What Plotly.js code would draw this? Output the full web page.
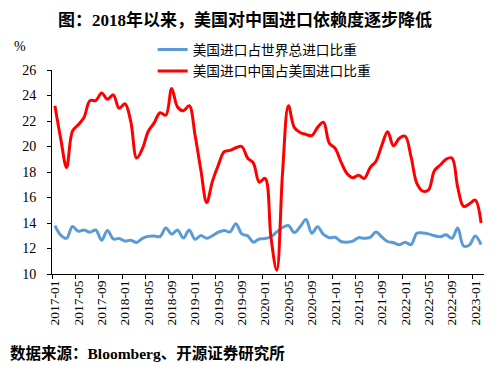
<!DOCTYPE html>
<html><head><meta charset="utf-8">
<script src="https://cdn.plot.ly/plotly-3.0.1.min.js"></script>
<style>html,body{margin:0;padding:0;background:#fff}#chart{width:500px;height:366px}</style>
</head><body><div id="chart"></div>
<script>
const months = [
 "2017-01","2017-02","2017-03","2017-04","2017-05","2017-06","2017-07","2017-08","2017-09","2017-10","2017-11","2017-12",
 "2018-01","2018-02","2018-03","2018-04","2018-05","2018-06","2018-07","2018-08","2018-09","2018-10","2018-11","2018-12",
 "2019-01","2019-02","2019-03","2019-04","2019-05","2019-06","2019-07","2019-08","2019-09","2019-10","2019-11","2019-12",
 "2020-01","2020-02","2020-03","2020-04","2020-05","2020-06","2020-07","2020-08","2020-09","2020-10","2020-11","2020-12",
 "2021-01","2021-02","2021-03","2021-04","2021-05","2021-06","2021-07","2021-08","2021-09","2021-10","2021-11","2021-12",
 "2022-01","2022-02","2022-03","2022-04","2022-05","2022-06","2022-07","2022-08","2022-09","2022-10","2022-11","2022-12",
 "2023-01","2023-02"];

const usWorldShare = [
 13.8,13.05,12.8,13.72,13.35,13.45,13.27,13.45,12.65,13.42,
 12.75,12.78,12.58,12.65,12.47,12.8,12.95,12.98,12.93,13.6,
 13.12,13.45,12.82,13.45,12.72,13.02,12.8,13.0,13.28,13.42,
 13.3,13.95,13.15,13.0,12.5,12.75,12.78,12.92,13.3,13.65,
 13.8,13.25,13.7,14.28,13.2,13.7,13.1,12.85,12.88,12.55,
 12.5,12.58,12.85,12.8,12.87,13.3,12.9,12.55,12.45,12.3,
 12.5,12.3,13.2,13.22,13.15,13.0,12.92,13.07,12.8,13.6,
 12.2,12.27,12.98,12.3];

const chinaShare = [
 23.2,20.6,18.35,21.2,21.7,22.3,23.6,23.6,24.2,23.7,
 24.05,23.0,23.35,21.95,19.1,19.85,21.2,21.85,22.65,22.45,
 24.55,23.1,22.8,23.2,20.9,18.15,15.6,17.3,18.55,19.6,
 19.7,19.9,20.0,19.1,18.7,17.2,17.5,12.9,10.3,18.0,
 23.2,21.5,21.1,20.95,20.85,21.5,21.9,20.25,19.85,18.8,
 17.9,17.55,17.75,17.5,18.35,18.85,20.1,21.15,20.05,20.65,
 20.8,19.2,17.1,16.5,16.6,18.1,18.55,19.0,19.1,16.8,
 15.3,15.5,15.8,14.0];

const seriesNames = ["美国进口占世界总进口比重", "美国进口中国占美国进口比重"];
const titleText = "图：2018年以来，美国对中国进口依赖度逐步降低";
const sourceText = "数据来源：Bloomberg、开源证券研究所";

const FONT = "'Liberation Serif','Times New Roman','Noto Sans CJK SC',serif";

const traces = [
 {x: months, y: usWorldShare, type: 'scatter', mode: 'lines', name: seriesNames[0],
  line: {color: '#5B9BD5', width: 3, shape: 'spline', smoothing: 1}, legend: 'legend'},
 {x: months, y: chinaShare, type: 'scatter', mode: 'lines', name: seriesNames[1],
  line: {color: '#FF0000', width: 3, shape: 'spline', smoothing: 1}, legend: 'legend2'}
];

const layout = {
 width: 500, height: 366,
 margin: {l: 52, r: 16, t: 70, b: 92},
 paper_bgcolor: '#fff', plot_bgcolor: '#fff',
 font: {family: FONT, color: '#000'},
 title: {text: '<b>' + titleText + '</b>', font: {family: FONT, size: 17, color: '#000'},
  xref: 'container', x: 0.49, xanchor: 'center', yref: 'container', y: 0.944, yanchor: 'middle'},
 xaxis: {type: 'category', range: [-0.5, 73.5], tickmode: 'linear', tick0: 0, dtick: 4,
  tickson: 'boundaries', ticks: 'outside', ticklen: 4, tickcolor: '#000', tickwidth: 1,
  tickangle: -90, tickfont: {family: FONT, size: 13.5, color: '#000'},
  showline: true, linecolor: '#000', linewidth: 1, showgrid: false, zeroline: false, fixedrange: true},
 yaxis: {range: [10, 26], tickmode: 'linear', tick0: 10, dtick: 2, ticks: 'outside', ticklen: 4,
  tickcolor: '#000', tickwidth: 1, tickfont: {family: FONT, size: 14, color: '#000'},
  ticklabelstandoff: 8,
  showline: true, linecolor: '#000', linewidth: 1, showgrid: false, zeroline: false, fixedrange: true},
 legend: {x: 0.233, xanchor: 'left', y: 1.10, yanchor: 'middle', bgcolor: 'rgba(0,0,0,0)',
  font: {family: FONT, size: 13.7, color: '#000'}},
 legend2: {x: 0.233, xanchor: 'left', y: 0.995, yanchor: 'middle', bgcolor: 'rgba(0,0,0,0)',
  font: {family: FONT, size: 13.7, color: '#000'}},
 showlegend: true,
 annotations: [
  {text: '%', xref: 'paper', yref: 'paper', x: -0.074, y: 1.113, xanchor: 'center', yanchor: 'middle',
   showarrow: false, font: {family: FONT, size: 14, color: '#000'}},
  {text: '<b>' + sourceText + '</b>', xref: 'paper', yref: 'paper', x: -0.102, y: -0.387,
   xanchor: 'left', yanchor: 'middle', showarrow: false, font: {family: FONT, size: 15.5, color: '#000'}}
 ]
};

Plotly.newPlot('chart', traces, layout, {displayModeBar: false, staticPlot: true});
</script></body></html>
